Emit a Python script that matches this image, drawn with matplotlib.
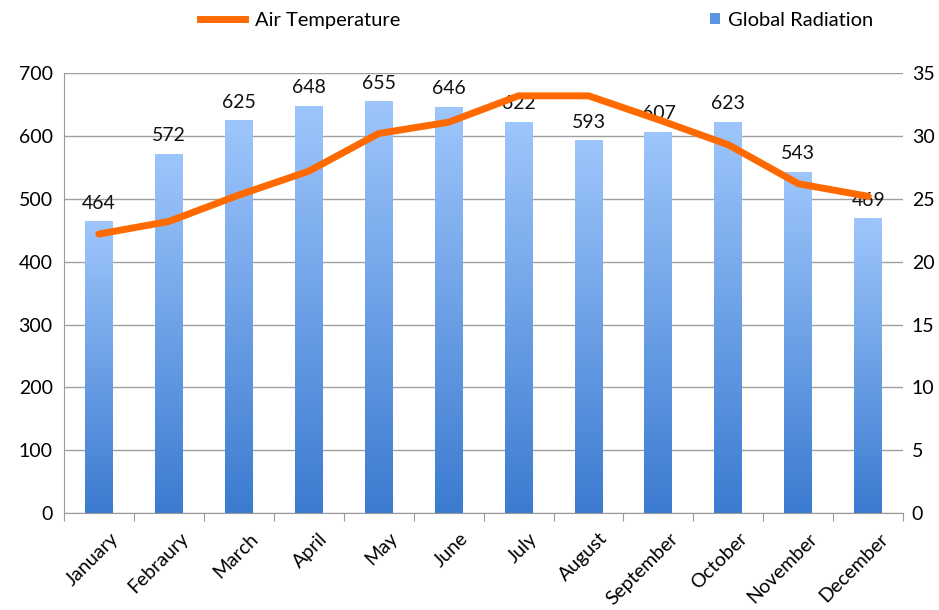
import numpy as np
import matplotlib.pyplot as plt
from matplotlib.colors import LinearSegmentedColormap
from matplotlib.lines import Line2D
from matplotlib.patches import Patch

plt.rcParams['font.family'] = ['Lato', 'DejaVu Sans']

months = ['January', 'Febraury', 'March', 'April', 'May', 'June', 'July',
          'August', 'September', 'October', 'November', 'December']
radiation = [464, 572, 625, 648, 655, 646, 622, 593, 607, 623, 543, 469]
air_temp = [22.2, 23.2, 25.3, 27.2, 30.2, 31.1, 33.2, 33.2, 31.3, 29.3, 26.2, 25.2]

fig = plt.figure(figsize=(9.39, 6.10), dpi=100)
ax = fig.add_axes([0.068, 0.159, 0.894, 0.721])
ax2 = ax.twinx()

x = np.arange(len(months))
w = 0.4
cmap = LinearSegmentedColormap.from_list('grad', ['#3b7bd0', '#9ec6fc'])
grad = np.linspace(0, 1, 256).reshape(-1, 1)
bars = ax.bar(x, radiation, width=w, color='none', zorder=2)
for b, v in zip(bars, radiation):
    im = ax.imshow(grad, cmap=cmap, aspect='auto', origin='lower',
                   extent=[b.get_x(), b.get_x() + w, 0, v], zorder=2)
    im.set_clip_path(b)
    ax.annotate(str(v), (b.get_x() + w / 2, v), xytext=(0, 7),
                textcoords='offset points', ha='center', va='bottom',
                fontsize=14, color='#111111', zorder=3)

ax.set_xlim(-0.5, len(months) - 0.5)
ax.set_ylim(0, 700)
ax.set_yticks(range(0, 701, 100))
ax.yaxis.grid(True, color='#a0a0a0', lw=1)
ax.set_axisbelow(True)
ax.set_xticks(np.arange(-0.5, len(months), 1), minor=False)
ax.set_xticklabels([])
ax.set_xticks(x + 0.15, minor=True)
ax.set_xticklabels(months, minor=True, rotation=45, ha='right',
                   rotation_mode='anchor', fontsize=14)
ax.tick_params(axis='x', which='major', length=6, color='#999999')
ax.tick_params(axis='x', which='minor', length=0, pad=12)
ax.tick_params(axis='y', length=0, labelsize=14, pad=8)
for s in ['top', 'right']:
    ax.spines[s].set_visible(False)
ax.spines['left'].set_color('#999999')
ax.spines['bottom'].set_color('#999999')

ax2.plot(x, air_temp, color='#ff6a00', lw=5, solid_capstyle='round', zorder=5)
ax2.set_ylim(0, 35)
ax2.set_yticks(range(0, 36, 5))
ax2.tick_params(axis='y', length=0, labelsize=14, pad=6)
for s in ['top', 'right', 'left', 'bottom']:
    ax2.spines[s].set_visible(False)

fig.legend(handles=[Line2D([0], [0], color='#ff6a00', lw=5)],
           labels=['Air Temperature'], loc='center left',
           bbox_to_anchor=(0.194, 0.967), frameon=False, fontsize=14.5,
           handlelength=2.2, handletextpad=0.5)
fig.legend(handles=[Patch(facecolor='#5b95e0')], labels=['Global Radiation'],
           loc='center left', bbox_to_anchor=(0.737, 0.967), frameon=False,
           fontsize=14.5, handlelength=0.5, handleheight=0.5, handletextpad=0.4)

fig.savefig('out.png', dpi=100)
